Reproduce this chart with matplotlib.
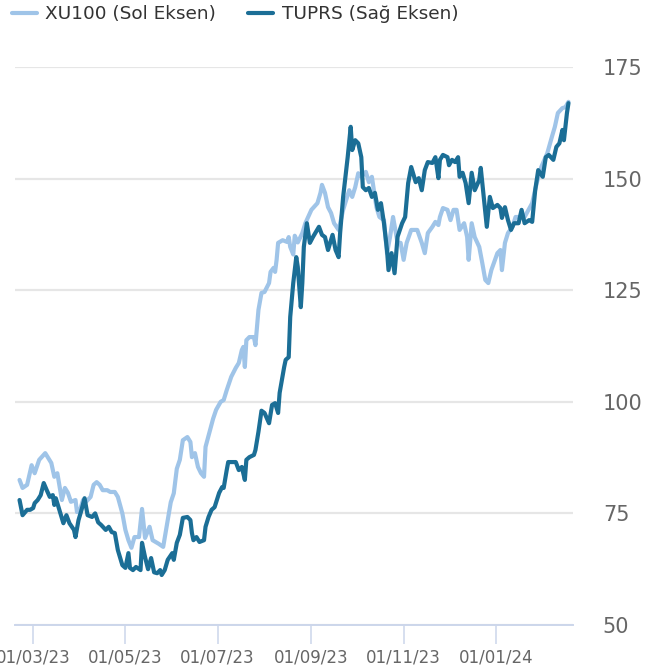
import matplotlib.pyplot as plt
import matplotlib.dates as mdates
import pandas as pd

# Series (both plotted on one scale)
xu100_dates = [
    "2023-02-20", "2023-02-22", "2023-02-25", "2023-02-28", "2023-03-02", "2023-03-05",
    "2023-03-09", "2023-03-11", "2023-03-13", "2023-03-15", "2023-03-17", "2023-03-20",
    "2023-03-22", "2023-03-24", "2023-03-26", "2023-03-29", "2023-03-30", "2023-04-01",
    "2023-04-03", "2023-04-05", "2023-04-08", "2023-04-10", "2023-04-12", "2023-04-14",
    "2023-04-16", "2023-04-19", "2023-04-21", "2023-04-24", "2023-04-26", "2023-04-29",
    "2023-05-01", "2023-05-03", "2023-05-05", "2023-05-07", "2023-05-10", "2023-05-12",
    "2023-05-14", "2023-05-17", "2023-05-19", "2023-05-23", "2023-05-26", "2023-05-28",
    "2023-05-31", "2023-06-02", "2023-06-04", "2023-06-06", "2023-06-08", "2023-06-11",
    "2023-06-13", "2023-06-14", "2023-06-16", "2023-06-18", "2023-06-20", "2023-06-22",
    "2023-06-23", "2023-06-26", "2023-06-28", "2023-06-30", "2023-07-03", "2023-07-05",
    "2023-07-07", "2023-07-10", "2023-07-13", "2023-07-15", "2023-07-17", "2023-07-18",
    "2023-07-19", "2023-07-20", "2023-07-22", "2023-07-25", "2023-07-26", "2023-07-28",
    "2023-07-30", "2023-08-01", "2023-08-04", "2023-08-05", "2023-08-07", "2023-08-08",
    "2023-08-09", "2023-08-10", "2023-08-13", "2023-08-16", "2023-08-17", "2023-08-18",
    "2023-08-20", "2023-08-21", "2023-08-23", "2023-08-26", "2023-08-28", "2023-09-01",
    "2023-09-05", "2023-09-07", "2023-09-08", "2023-09-10", "2023-09-12", "2023-09-14",
    "2023-09-16", "2023-09-19", "2023-09-22", "2023-09-26", "2023-09-28", "2023-09-30",
    "2023-10-02", "2023-10-04", "2023-10-07", "2023-10-09", "2023-10-11", "2023-10-12",
    "2023-10-14", "2023-10-16", "2023-10-19", "2023-10-21", "2023-10-23", "2023-10-25",
    "2023-10-28", "2023-10-30", "2023-11-01", "2023-11-03", "2023-11-06", "2023-11-10",
    "2023-11-13", "2023-11-15", "2023-11-17", "2023-11-20", "2023-11-22", "2023-11-24",
    "2023-11-25", "2023-11-27", "2023-11-30", "2023-12-02", "2023-12-04", "2023-12-06",
    "2023-12-07", "2023-12-08", "2023-12-11", "2023-12-13", "2023-12-14", "2023-12-16",
    "2023-12-18", "2023-12-21", "2023-12-23", "2023-12-25", "2023-12-27", "2023-12-29",
    "2024-01-02", "2024-01-04", "2024-01-05", "2024-01-07", "2024-01-09", "2024-01-12",
    "2024-01-14", "2024-01-18", "2024-01-20", "2024-01-25", "2024-01-28", "2024-01-31",
    "2024-02-04", "2024-02-07", "2024-02-09", "2024-02-11", "2024-02-14", "2024-02-16",
    "2024-02-18",
]
xu100_values = [
    82.5, 80.7, 81.4, 85.8, 84.0, 87.0,
    88.5, 87.4, 86.3, 83.2, 84.0, 78.0,
    80.7, 79.6, 77.6, 78.0, 75.3, 75.8,
    78.0, 77.6, 78.7, 81.4, 82.0, 81.4,
    80.2, 80.2, 79.8, 79.8, 78.7, 75.0,
    71.3, 69.0, 67.3, 69.7, 69.7, 76.0,
    69.5, 72.0, 69.0, 68.2, 67.5, 71.5,
    77.5, 79.5, 85.0, 87.0, 91.4, 92.1,
    91.0, 87.6, 88.5, 85.4, 84.0, 83.2,
    89.9, 93.7, 96.2, 98.2, 100.0, 100.4,
    102.6, 105.6, 107.6, 108.7, 111.6, 112.3,
    107.8, 113.8, 114.5, 114.5, 112.7, 120.6,
    124.4, 124.6, 126.6, 129.1, 130.0, 129.1,
    131.8, 135.6, 136.2, 135.8, 136.9, 134.7,
    133.0, 137.2, 135.7, 137.8, 140.0, 143.0,
    144.5, 146.8, 148.6, 146.8, 143.6, 142.3,
    140.0, 138.5, 143.0, 147.4, 145.9, 148.1,
    151.2, 150.4, 151.5, 149.2, 150.4, 148.1,
    143.6, 141.4, 140.7, 133.3, 136.9, 141.4,
    135.6, 135.6, 131.8, 135.6, 138.5, 138.5,
    135.6, 133.3, 137.8, 139.2, 140.3, 139.6,
    141.4, 143.4, 143.0, 140.7, 143.0, 143.0,
    140.7, 138.5, 140.0, 136.9, 131.8, 140.0,
    136.9, 134.7, 131.1, 127.3, 126.6, 129.5,
    133.3, 134.0, 129.5, 135.6, 137.8, 139.2,
    141.4, 141.4, 141.4, 144.5, 149.0, 152.6,
    155.7, 159.3, 161.6, 164.7, 165.8, 166.0,
    167.2,
]

tuprs_dates = [
    "2023-02-20", "2023-02-22", "2023-02-25", "2023-02-27", "2023-03-01", "2023-03-02",
    "2023-03-04", "2023-03-06", "2023-03-08", "2023-03-10", "2023-03-12", "2023-03-14",
    "2023-03-15", "2023-03-16", "2023-03-19", "2023-03-21", "2023-03-23", "2023-03-25",
    "2023-03-28", "2023-03-29", "2023-03-31", "2023-04-02", "2023-04-04", "2023-04-06",
    "2023-04-09", "2023-04-11", "2023-04-13", "2023-04-15", "2023-04-18", "2023-04-20",
    "2023-04-22", "2023-04-24", "2023-04-26", "2023-04-29", "2023-05-01", "2023-05-03",
    "2023-05-04", "2023-05-06", "2023-05-08", "2023-05-11", "2023-05-12", "2023-05-14",
    "2023-05-16", "2023-05-18", "2023-05-20", "2023-05-22", "2023-05-24", "2023-05-25",
    "2023-05-27", "2023-05-29", "2023-06-01", "2023-06-02", "2023-06-04", "2023-06-06",
    "2023-06-08", "2023-06-11", "2023-06-13", "2023-06-14", "2023-06-15", "2023-06-17",
    "2023-06-19", "2023-06-22", "2023-06-23", "2023-06-25", "2023-06-27", "2023-06-29",
    "2023-07-02", "2023-07-04", "2023-07-05", "2023-07-07", "2023-07-08", "2023-07-10",
    "2023-07-13", "2023-07-15", "2023-07-17", "2023-07-19", "2023-07-20", "2023-07-22",
    "2023-07-25", "2023-07-26", "2023-07-28", "2023-07-30", "2023-08-01", "2023-08-04",
    "2023-08-06", "2023-08-08", "2023-08-10", "2023-08-11", "2023-08-14", "2023-08-15",
    "2023-08-17", "2023-08-18", "2023-08-20", "2023-08-22", "2023-08-23", "2023-08-25",
    "2023-08-26", "2023-08-27", "2023-08-29", "2023-08-31", "2023-09-02", "2023-09-06",
    "2023-09-08", "2023-09-10", "2023-09-12", "2023-09-15", "2023-09-17", "2023-09-19",
    "2023-09-20", "2023-09-22", "2023-09-25", "2023-09-27", "2023-09-28", "2023-09-30",
    "2023-10-02", "2023-10-04", "2023-10-05", "2023-10-07", "2023-10-09", "2023-10-11",
    "2023-10-13", "2023-10-15", "2023-10-17", "2023-10-19", "2023-10-21", "2023-10-22",
    "2023-10-24", "2023-10-26", "2023-10-28", "2023-10-31", "2023-11-02", "2023-11-04",
    "2023-11-06", "2023-11-09", "2023-11-11", "2023-11-13", "2023-11-15", "2023-11-17",
    "2023-11-20", "2023-11-22", "2023-11-24", "2023-11-25", "2023-11-27", "2023-11-30",
    "2023-12-01", "2023-12-03", "2023-12-05", "2023-12-07", "2023-12-08", "2023-12-10",
    "2023-12-12", "2023-12-14", "2023-12-16", "2023-12-18", "2023-12-21", "2023-12-22",
    "2023-12-24", "2023-12-26", "2023-12-28", "2023-12-30", "2024-01-02", "2024-01-04",
    "2024-01-05", "2024-01-07", "2024-01-09", "2024-01-11", "2024-01-13", "2024-01-16",
    "2024-01-18", "2024-01-20", "2024-01-23", "2024-01-25", "2024-01-27", "2024-01-29",
    "2024-02-01", "2024-02-03", "2024-02-05", "2024-02-08", "2024-02-10", "2024-02-12",
    "2024-02-14", "2024-02-15", "2024-02-17", "2024-02-18",
]
tuprs_values = [
    78.0, 74.6, 75.8, 75.8, 76.2, 77.3,
    78.0, 79.1, 81.8, 80.2, 78.7, 79.1,
    76.9, 78.4, 75.0, 72.8, 74.6, 72.8,
    71.3, 69.7, 73.5, 75.8, 78.4, 74.6,
    74.2, 75.0, 73.0, 72.4, 71.3, 72.0,
    70.8, 70.6, 66.8, 63.4, 62.8, 66.1,
    62.8, 62.3, 63.0, 62.3, 68.4, 65.2,
    62.5, 65.0, 61.8, 61.6, 62.3, 61.2,
    62.3, 64.6, 66.1, 64.6, 68.4, 70.2,
    74.0, 74.2, 73.5, 70.6, 69.0, 69.7,
    68.6, 69.0, 72.0, 74.2, 75.8, 76.4,
    79.6, 80.9, 80.7, 84.7, 86.5, 86.5,
    86.5, 84.7, 85.4, 82.5, 87.0, 87.6,
    88.1, 89.2, 93.3, 98.0, 97.5, 95.2,
    99.3, 99.7, 97.5, 102.0, 107.8, 109.4,
    110.0, 119.0, 126.6, 132.4, 130.2, 121.2,
    126.6, 134.7, 140.0, 135.6, 136.9, 139.2,
    137.4, 136.9, 134.0, 137.4, 134.0, 132.4,
    137.8, 145.9, 154.8, 161.6, 156.4, 158.6,
    157.9, 154.8, 148.1, 147.4, 147.9, 145.9,
    146.8, 143.0, 144.5, 140.0, 134.0, 129.5,
    133.3, 128.8, 137.0, 140.0, 141.4, 149.0,
    152.6, 149.2, 150.1, 147.4, 151.9, 153.7,
    153.5, 154.8, 150.1, 154.2, 155.3, 154.8,
    153.0, 154.2, 153.7, 154.8, 150.4, 151.3,
    149.0, 144.5, 151.3, 147.4, 149.7, 152.4,
    145.9, 139.2, 145.9, 143.4, 144.1, 143.4,
    141.2, 143.6, 140.7, 138.5, 140.0, 140.0,
    143.0, 140.0, 140.7, 140.3, 147.4, 151.9,
    150.4, 154.8, 155.3, 154.2, 157.1, 157.9,
    160.9, 158.6, 164.7, 166.9,
]

tick_dates = ["2023-03-01", "2023-05-01", "2023-07-01", "2023-09-01", "2023-11-01", "2024-01-01"]
y_ticks = [50, 75, 100, 125, 150, 175]

LIGHT = "#9fc4e8"
DARK = "#1b6e96"

fig = plt.figure(figsize=(6.57, 6.68), dpi=100)
ax = fig.add_axes([15 / 657, 1 - 625 / 668, (573 - 15) / 657, (625 - 67) / 668])

ax.plot(pd.to_datetime(xu100_dates), xu100_values, color=LIGHT, lw=3.0,
        solid_joinstyle="round", solid_capstyle="round", label="XU100 (Sol Eksen)", zorder=3)
ax.plot(pd.to_datetime(tuprs_dates), tuprs_values, color=DARK, lw=3.0,
        solid_joinstyle="round", solid_capstyle="round", label="TUPRS (Sağ Eksen)", zorder=4)

ax.set_xlim(pd.Timestamp("2023-02-17"), pd.Timestamp("2024-02-21"))
ax.set_ylim(50, 175)

# right side axis labels, no ticks
ax.yaxis.tick_right()
ax.set_yticks(y_ticks)
ax.tick_params(axis="y", length=0, pad=21.5, labelsize=15, labelcolor="#666666")
for lab in ax.get_yticklabels():
    lab.set_horizontalalignment("left")
ax.yaxis.grid(True, color="#e6e6e6", lw=1.6)
ax.set_axisbelow(True)

ax.set_xticks(pd.to_datetime(tick_dates))
ax.xaxis.set_major_formatter(mdates.DateFormatter("%d/%m/%y"))
ax.tick_params(axis="x", length=13.5, width=1.1, color="#ccd6eb",
               labelsize=12, labelcolor="#666666", pad=3.5)

for s in ["top", "left", "right"]:
    ax.spines[s].set_visible(False)
ax.spines["bottom"].set_color("#ccd6eb")
ax.spines["bottom"].set_linewidth(1.4)
ax.spines["bottom"].set_zorder(1)

fig.legend(loc="center left", bbox_to_anchor=(12 / 657, 1 - 14 / 668), ncol=2,
           frameon=False, fontsize=13.3, handlelength=1.35, handletextpad=0.45,
           columnspacing=1.75, borderpad=0, borderaxespad=0, labelcolor="#333333")

fig.savefig("out.png", dpi=100)
